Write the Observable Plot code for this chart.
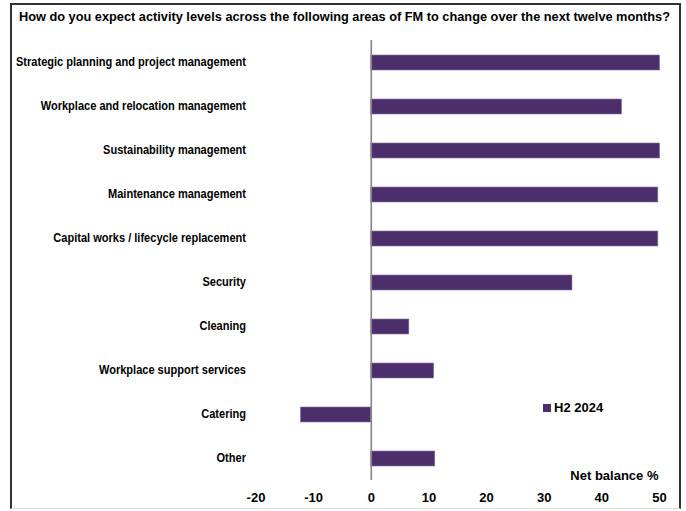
<!DOCTYPE html>
<html>
<head>
<meta charset="utf-8">
<script src="https://cdn.jsdelivr.net/npm/d3@7"></script>
<script src="https://cdn.jsdelivr.net/npm/@observablehq/plot@0.6"></script>
<style>
  html, body { margin: 0; padding: 0; background: #fff; }
  #wrap { position: relative; width: 686px; height: 511px; overflow: hidden; }
  #frame { position: absolute; left: 10px; top: 3px; width: 671px; height: 506px;
           border: 2px solid #333; border-bottom: 1px solid #ddd; box-sizing: border-box; }
  #title { position: absolute; left: 19px; top: 9px; white-space: nowrap; transform-origin: 0 0;
           font-family: "Liberation Sans", Arial, sans-serif;
           font-weight: bold; font-size: 13.5px; color: #000; }
  #chart { position: absolute; left: 0; top: 0; }
  #legend { position: absolute; left: 543px; top: 400px; white-space: nowrap;
           font-family: "Liberation Sans", Arial, sans-serif;
           font-weight: bold; font-size: 13px; color: #000; display: flex; align-items: center; }
  #legend span.sw { display: inline-block; width: 8px; height: 8px; background: #4b2e6a; margin-right: 3px; }
</style>
</head>
<body>
<div id="wrap">
  <div id="frame"></div>
  <div id="chart"></div>
  <div id="title">How do you expect activity levels across the following areas of FM to change over the next twelve months?</div>
  <div id="legend"><span class="sw"></span>H2 2024</div>
</div>
<script>
const categories = [
  "Strategic planning and project management",
  "Workplace and relocation management",
  "Sustainability management",
  "Maintenance management",
  "Capital works / lifecycle replacement",
  "Security",
  "Cleaning",
  "Workplace support services",
  "Catering",
  "Other"
];
const values = [50.1, 43.5, 50.1, 49.8, 49.8, 34.9, 6.6, 10.9, -12.2, 11.1];
const xTicks = [-20, -10, 0, 10, 20, 30, 40, 50];
const seriesName = "H2 2024";
const xLabel = "Net balance %";

const data = categories.map((c, i) => ({category: c, value: values[i]}));
const font = '"Liberation Sans", Arial, sans-serif';

const chart = Plot.plot({
  width: 686,
  height: 511,
  marginTop: 40,
  marginBottom: 31,
  marginLeft: 255.5,
  marginRight: 27,
  style: {fontFamily: font, fontWeight: "bold", fontSize: "13px", color: "#000", background: "transparent"},
  x: {domain: [-20, 50], ticks: xTicks, tickSize: 0, tickPadding: 0, label: null},
  y: {domain: categories, paddingInner: 0.66, paddingOuter: 0.33, axis: null},
  marks: [
    Plot.barX(data, {x: "value", y: "category", fill: "#4b2e6a", stroke: "#8a74a3", strokeWidth: 0.6}),
    Plot.ruleX([0], {stroke: "#858585", strokeWidth: 1.6}),
    Plot.axisX({ticks: xTicks, tickFormat: d => String(d), tickSize: 0, tickPadding: 12, anchor: "bottom", label: null, fontSize: 13, fontWeight: "bold"}),
    Plot.text(data, {x: -20, y: "category", text: "category", textAnchor: "end", dx: -10, dy: -1, fontSize: 12, fontWeight: "bold", fill: "#000", className: "ylab"}),
    Plot.text([xLabel], {x: 50, frameAnchor: "bottom", text: d => d, textAnchor: "end", dx: -1, dy: -1, fontSize: 13, fontWeight: "bold", fill: "#000"})
  ]
});
document.getElementById("chart").appendChild(chart);

// condense text to mimic the narrow typeface of the reference
chart.querySelectorAll(".ylab text").forEach(t => {
  const w = t.getComputedTextLength();
  t.setAttribute("textLength", (w * 0.92).toFixed(1));
  t.setAttribute("lengthAdjust", "spacingAndGlyphs");
});
const title = document.getElementById("title");
const tw = title.getBoundingClientRect().width;
title.style.transform = `scaleX(${651 / tw})`;
</script>
</body>
</html>
